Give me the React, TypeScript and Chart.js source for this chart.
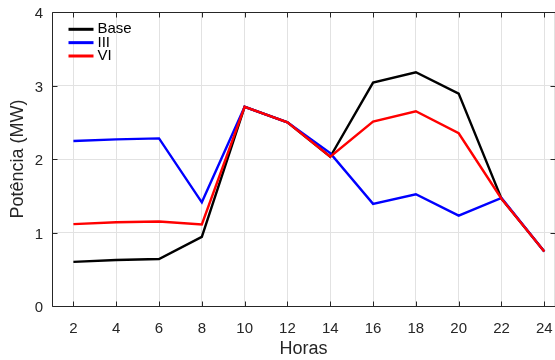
import React, { useEffect, useRef } from "react";
import { Chart, registerables } from "chart.js";

Chart.register(...registerables);

const hours = [2, 4, 6, 8, 10, 12, 14, 16, 18, 20, 22, 24];
const baseValues = [0.6, 0.625, 0.64, 0.94, 2.71, 2.5, 2.03, 3.04, 3.18, 2.89, 1.46, 0.74];
const iiiValues = [2.245, 2.267, 2.28, 1.41, 2.71, 2.5, 2.08, 1.39, 1.52, 1.23, 1.47, 0.74];
const viValues = [1.114, 1.14, 1.15, 1.11, 2.71, 2.5, 2.03, 2.51, 2.65, 2.35, 1.46, 0.74];
const seriesLabels = ["Base", "III", "VI"];
const seriesColors = ["#000000", "#0000ff", "#ff0000"];
const yTicks = [0, 1, 2, 3, 4];

const FONT = "'Liberation Sans', Arial, Helvetica, sans-serif";
const AXIS_COLOR = "#262626";
const GRID_COLOR = "#e2e2e2";

const boxPlugin = {
  id: "matlabBox",
  afterDraw(chart: any) {
    const { ctx, chartArea } = chart;
    const { left, right, top, bottom } = chartArea;
    const xs = chart.scales.x;
    const ys = chart.scales.y;
    ctx.save();
    const L = Math.round(left) + 0.5;
    const B = Math.round(bottom) + 0.5;
    const T = Math.round(top) + 0.5;
    const R = Math.round(right) - 0.5;
    // right edge (faded, as in the cropped reference)
    ctx.strokeStyle = GRID_COLOR;
    ctx.lineWidth = 1;
    ctx.beginPath();
    ctx.moveTo(R, T);
    ctx.lineTo(R, B);
    ctx.stroke();

    ctx.strokeStyle = AXIS_COLOR;
    ctx.beginPath();
    ctx.moveTo(L, T);
    ctx.lineTo(L, B);
    ctx.lineTo(R + 1, B);
    ctx.moveTo(L, T);
    ctx.lineTo(R + 1, T);
    const tl = 5;
    xs.ticks.forEach((t: any) => {
      const px = Math.round(xs.getPixelForValue(t.value)) + 0.5;
      ctx.moveTo(px, B);
      ctx.lineTo(px, B - tl);
      ctx.moveTo(px, T);
      ctx.lineTo(px, T + tl);
    });
    ys.ticks.forEach((t: any) => {
      const py = Math.round(ys.getPixelForValue(t.value)) + 0.5;
      ctx.moveTo(L, py);
      ctx.lineTo(L + tl, py);
      ctx.moveTo(R + 1, py);
      ctx.lineTo(R + 1 - tl, py);
    });
    ctx.stroke();

    // legend (inside plot, top-left)
    const lx0 = left + 16.5;
    const lx1 = left + 41.5;
    const tx = left + 45.5;
    const y0 = top + 17.3;
    const dy = 13.35;
    ctx.font = `15px ${FONT}`;
    ctx.textBaseline = "middle";
    ctx.textAlign = "left";
    chart.data.datasets.forEach((ds: any, i: number) => {
      const y = y0 + i * dy;
      ctx.strokeStyle = ds.borderColor;
      ctx.lineWidth = 3;
      ctx.beginPath();
      ctx.moveTo(lx0, y);
      ctx.lineTo(lx1, y);
      ctx.stroke();
      ctx.fillStyle = "#000000";
      ctx.fillText(ds.label, tx, y);
    });
    ctx.restore();
  },
};

export default function App() {
  const canvasRef = useRef<HTMLCanvasElement | null>(null);

  useEffect(() => {
    if (!canvasRef.current) return;
    const seriesValues = [baseValues, iiiValues, viValues];
    const chart = new Chart(canvasRef.current, {
      type: "line",
      data: {
        datasets: seriesLabels.map((label, i) => ({
          label,
          data: hours.map((h, j) => ({ x: h, y: seriesValues[i][j] })),
          borderColor: seriesColors[i],
          backgroundColor: seriesColors[i],
          borderWidth: 2.4,
          pointRadius: 0,
          tension: 0,
          fill: false,
          order: seriesLabels.length - 1 - i,
        })),
      },
      options: {
        responsive: false,
        maintainAspectRatio: false,
        animation: false,
        devicePixelRatio: 1,
        layout: { padding: { top: 12, left: 0, right: 0, bottom: 0 } },
        plugins: {
          legend: { display: false },
          tooltip: { enabled: false },
        },
        scales: {
          x: {
            type: "linear",
            min: 1,
            max: 24.5,
            afterBuildTicks: (scale: any) => {
              scale.ticks = hours.map((v) => ({ value: v }));
            },
            afterFit: (scale: any) => {
              scale.height = 54;
              scale.paddingLeft = 0;
              scale.paddingRight = 0;
              scale.paddingTop = 0;
              scale.paddingBottom = 0;
            },
            grid: { color: GRID_COLOR, lineWidth: 1, drawTicks: false },
            border: { display: false },
            ticks: {
              color: AXIS_COLOR,
              font: { family: FONT, size: 15 },
              padding: 14,
              maxRotation: 0,
              autoSkip: false,
              callback: (v: any) => String(v),
            },
            title: {
              display: true,
              text: "Horas",
              color: AXIS_COLOR,
              font: { family: FONT, size: 18, lineHeight: 1.2 },
              padding: { top: 0, bottom: 0 },
            },
          },
          y: {
            type: "linear",
            min: 0,
            max: 4,
            afterBuildTicks: (scale: any) => {
              scale.ticks = yTicks.map((v) => ({ value: v }));
            },
            afterFit: (scale: any) => {
              scale.width = 52;
              scale.paddingLeft = 0;
              scale.paddingRight = 0;
              scale.paddingTop = 0;
              scale.paddingBottom = 0;
            },
            grid: { color: GRID_COLOR, lineWidth: 1, drawTicks: false },
            border: { display: false },
            ticks: {
              color: AXIS_COLOR,
              font: { family: FONT, size: 15 },
              padding: 9,
              labelOffset: 2,
              callback: (v: any) => String(v),
            },
            title: {
              display: true,
              text: "Potência (MW)",
              color: AXIS_COLOR,
              font: { family: FONT, size: 18, lineHeight: 1.2 },
              padding: { top: 7.7, bottom: 0 },
            },
          },
        },
      },
      plugins: [boxPlugin],
    });
    return () => chart.destroy();
  }, []);

  return (
    <div
      style={{
        position: "fixed",
        left: 0,
        top: 0,
        width: 555,
        height: 360,
        overflow: "hidden",
        background: "#ffffff",
      }}
    >
      <canvas ref={canvasRef} width={555} height={360} style={{ display: "block" }} />
    </div>
  );
}
